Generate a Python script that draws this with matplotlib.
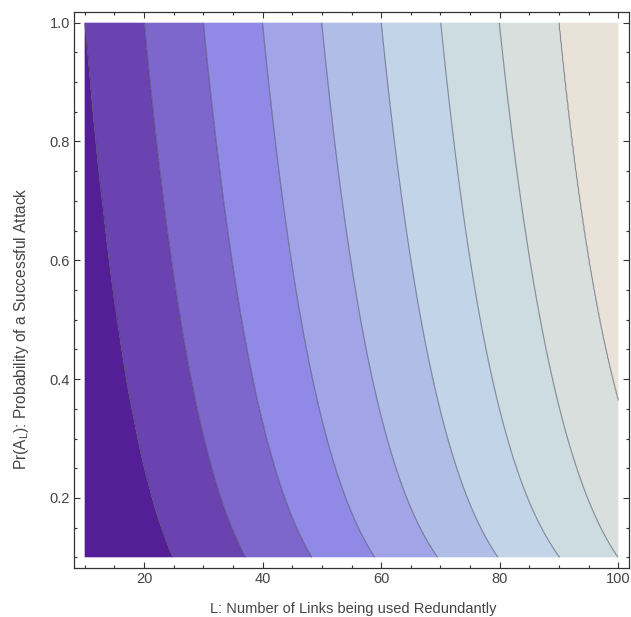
import numpy as np
import matplotlib
matplotlib.use("Agg")
import matplotlib.pyplot as plt
from matplotlib.colors import ListedColormap, BoundaryNorm
from matplotlib.ticker import MultipleLocator

plt.rcParams['font.family'] = ['Liberation Sans', 'DejaVu Sans']
plt.rcParams['mathtext.fontset'] = 'custom'
plt.rcParams['mathtext.rm'] = 'Liberation Sans'

# Probability levels at which the contour crossings were tabulated
p_rows = np.array([1.0, 0.8, 0.6, 0.4, 0.2, 0.1])

# L value of each contour line at the tabulated probabilities (nan = beyond L=100)
contour_1 = [10.0, 12.0, 14.2, 17.0, 21.4, 24.9]
contour_2 = [20.1, 22.1, 24.6, 27.9, 33.1, 37.1]
contour_3 = [30.0, 32.2, 34.9, 38.3, 43.8, 48.3]
contour_4 = [40.0, 42.2, 44.8, 48.4, 54.1, 58.9]
contour_5 = [50.0, 52.2, 54.8, 58.5, 64.4, 69.5]
contour_6 = [60.0, 62.3, 65.0, 68.7, 74.6, 79.7]
contour_7 = [70.1, 72.2, 75.0, 78.8, 84.7, 90.1]
contour_8 = [80.0, 82.2, 85.0, 88.9, 94.9, 99.9]
contour_9 = [89.9, 92.2, 95.1, 99.0, np.nan, np.nan]
contours = [contour_1, contour_2, contour_3, contour_4, contour_5,
            contour_6, contour_7, contour_8, contour_9]

# Band fill colours, darkest (smallest L) to lightest
band_colors = ['#541e96', '#6a43b1', '#7d66cc', '#9089e6', '#a1a4e7',
               '#b0bde7', '#c1d4e8', '#cddce1', '#d8dfdc', '#e8e2d8']

x_range = (10, 100)
p_range = (0.1, 1.0)
x_ticks = [20, 40, 60, 80, 100]
y_ticks = [0.2, 0.4, 0.6, 0.8, 1.0]

# Smooth each contour line as a quadratic in log(p)
fits = []
for c in contours:
    c = np.asarray(c, dtype=float)
    ok = ~np.isnan(c)
    deg = 2 if ok.sum() > 4 else 1
    fits.append(np.polyfit(np.log(p_rows[ok]), c[ok], deg))

Lg = np.linspace(x_range[0], x_range[1], 500)
Pg = np.linspace(p_range[0], p_range[1], 400)
Z = np.empty((Pg.size, Lg.size))
for i, p in enumerate(Pg):
    pos = np.array([np.polyval(f, np.log(p)) for f in fits])
    pos = np.maximum.accumulate(pos)
    anchors = np.concatenate([[pos[0] - 50], pos, [pos[-1] + 50]])
    Z[i] = np.interp(Lg, anchors, np.arange(len(anchors)))

levels = np.arange(0, len(contours) + 2)
cmap = ListedColormap(band_colors)
norm = BoundaryNorm(levels, cmap.N)

fig = plt.figure(figsize=(6.31, 6.17), dpi=100)
ax = fig.add_axes([74 / 631, 1 - 568 / 617, 555 / 631, 556 / 617])
ax.contourf(Lg, Pg, Z, levels=levels, cmap=cmap, norm=norm, antialiased=True)
ax.contour(Lg, Pg, Z, levels=levels[1:-1], colors=[(0.25, 0.25, 0.35, 0.55)],
           linewidths=0.8)

pad_x = 0.02 * (x_range[1] - x_range[0])
pad_y = 0.02 * (p_range[1] - p_range[0])
ax.set_xlim(x_range[0] - pad_x, x_range[1] + pad_x)
ax.set_ylim(p_range[0] - pad_y, p_range[1] + pad_y)

ax.set_xticks(x_ticks)
ax.set_yticks(y_ticks)
ax.set_xticklabels([str(t) for t in x_ticks])
ax.set_yticklabels([f"{t:.1f}" for t in y_ticks])
ax.xaxis.set_minor_locator(MultipleLocator(5))
ax.yaxis.set_minor_locator(MultipleLocator(0.05))
ax.tick_params(which='both', direction='in', top=True, right=True,
               color='#333333', width=0.8, labelsize=10.5,
               labelcolor='#444444')
ax.tick_params(which='major', length=4.5, pad=3)
ax.tick_params(which='minor', length=2.5)
for s in ax.spines.values():
    s.set_color('#333333')
    s.set_linewidth(0.9)

ax.set_xlabel('L: Number of Links being used Redundantly', fontsize=10.5,
              color='#444444', va='center')
ax.xaxis.set_label_coords(0.5036, -0.0737)
ax.set_ylabel(r'Pr(A$\mathregular{_L}$): Probability of a Successful Attack',
              fontsize=11.2, color='#444444', va='center')
ax.yaxis.set_label_coords(-0.0946, 0.43)

fig.savefig('out.png', dpi=100, facecolor='white')
